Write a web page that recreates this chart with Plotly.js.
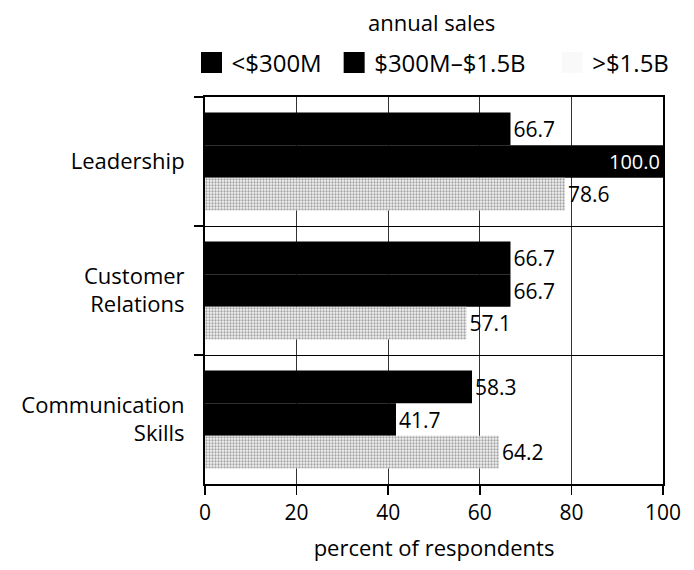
<!DOCTYPE html>
<html><head><meta charset="utf-8">
<script src="https://cdn.plot.ly/plotly-3.0.1.min.js"></script>
<style>body{margin:0;background:#fff}#chart{width:694px;height:570px}</style>
</head><body><div id="chart"></div>
<script>
const categories = ["Leadership", "Customer<br>Relations", "Communication<br>Skills"];
const seriesNames = ["<$300M", "$300M\u2013$1.5B", ">$1.5B"];
const small = [66.7, 66.7, 58.3];
const mid = [100.0, 66.7, 41.7];
const large = [78.6, 57.1, 64.2];
const xTicks = [0, 20, 40, 60, 80, 100];

const FONT = "Open Sans, sans-serif";
function pos(vals){ return vals.map(v => v >= 95 ? "inside" : "outside"); }
function mk(vals, marker){
  return {
    type: "bar", orientation: "h", y: categories, x: vals, showlegend: false,
    text: vals.map(v => v.toFixed(1)), textposition: pos(vals),
    insidetextanchor: "end",
    insidetextfont: {color: "#fff", size: 21, family: FONT},
    outsidetextfont: {color: "#000", size: 21, family: FONT},
    cliponaxis: false, marker: marker, hoverinfo: "none"
  };
}
function legendItem(name, color, leg){
  return {type: "scatter", mode: "markers", x: [null], y: [null], name: name, legend: leg,
          marker: {symbol: "square", size: 16, color: color, line: {color: color, width: 5}},
          showlegend: true, hoverinfo: "none"};
}
const data = [
  mk(small, {color: "#000", line: {width: 0}}),
  mk(mid, {color: "#000", line: {width: 0}}),
  mk(large, {color: "#fff", line: {width: 0},
     pattern: {shape: ".", fgcolor: "#a4a4a4", bgcolor: "#f4f4f4", size: 3, solidity: 0.45}}),
  legendItem(seriesNames[0], "#000", "legend"),
  legendItem(seriesNames[1], "#000", "legend2"),
  legendItem(seriesNames[2], "#f9f9f9", "legend3")
];
function leg(x){
  return {orientation: "h", x: x, xanchor: "left", y: 1.03, yanchor: "bottom",
          font: {size: 24, family: FONT}, itemwidth: 30, bgcolor: "rgba(0,0,0,0)"};
}
const layout = {
  width: 694, height: 570,
  margin: {l: 205, r: 31, t: 97, b: 86},
  paper_bgcolor: "#fff", plot_bgcolor: "#fff",
  font: {family: FONT, size: 22, color: "#000"},
  barmode: "group", bargap: 0.24, bargroupgap: 0,
  showlegend: true,
  legend: leg(-0.0295), legend2: leg(0.282), legend3: leg(0.758),
  xaxis: {range: [0, 100], tickvals: xTicks, ticktext: xTicks.map(String),
          showgrid: true, gridcolor: "#333", gridwidth: 1,
          showline: true, linecolor: "#000", linewidth: 2, mirror: true,
          ticks: "outside", ticklen: 9, tickcolor: "#000", tickwidth: 1.5,
          zeroline: false, tickfont: {size: 21},
          title: {text: "percent of respondents", font: {size: 22}, standoff: 15}},
  yaxis: {autorange: "reversed", type: "category", tickson: "boundaries",
          showgrid: true, gridcolor: "#000", gridwidth: 1,
          showline: true, linecolor: "#000", linewidth: 2, mirror: true,
          ticks: "outside", ticklen: 9, tickcolor: "#000", tickwidth: 1.5,
          tickfont: {size: 22}, ticklabelstandoff: 14},
  annotations: [{text: "annual sales", xref: "paper", yref: "paper", x: 0.495, y: 1.15,
                 xanchor: "center", yanchor: "bottom", showarrow: false, font: {size: 22}}]
};
Plotly.newPlot("chart", data, layout, {staticPlot: true});
</script></body></html>
